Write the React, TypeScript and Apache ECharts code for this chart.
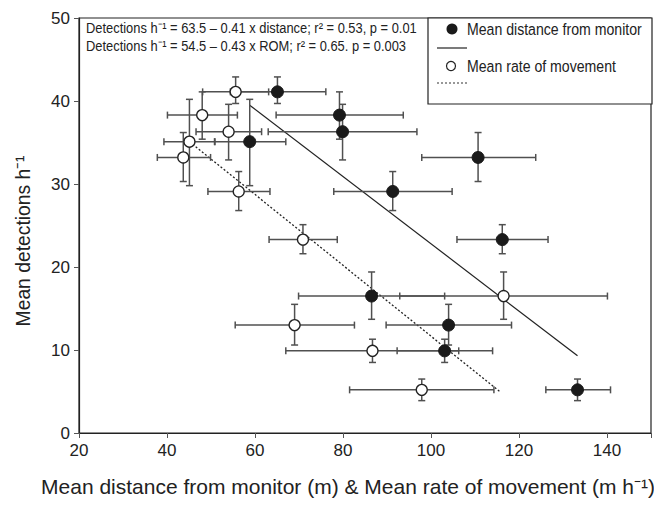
import React, { useEffect, useRef } from "react";
import * as echarts from "echarts";

// Site values (shared y for both series)
const siteY = [41.1, 38.3, 36.3, 35.1, 33.2, 29.1, 23.3, 16.5, 13.0, 9.9, 5.2];
const siteYLo = [39.7, 35.4, 32.9, 29.8, 30.3, 26.8, 21.6, 13.7, 10.6, 8.5, 3.9];
const siteYHi = [42.9, 41.1, 39.6, 40.2, 36.2, 31.5, 25.1, 19.4, 15.5, 11.3, 6.5];

// Mean distance from monitor (filled)
const distX = [65.1, 79.2, 79.9, 58.8, 110.7, 91.3, 116.2, 86.5, 104.0, 103.1, 133.3];
const distXLo = [54.4, 64.8, 63.0, 50.9, 97.9, 77.9, 105.9, 69.9, 89.8, 92.3, 126.1];
const distXHi = [76.1, 93.7, 96.8, 67.0, 123.8, 104.8, 126.6, 103.1, 118.3, 114.0, 140.8];

// Mean rate of movement (open)
const romX = [55.6, 48.0, 54.0, 45.1, 43.7, 56.3, 70.9, 116.5, 69.0, 86.7, 97.9];
const romXLo = [48.1, 40.1, 46.6, 39.3, 37.8, 49.3, 63.2, 92.9, 55.5, 67.0, 81.5];
const romXHi = [63.1, 56.0, 61.5, 50.8, 49.9, 63.4, 78.7, 140.1, 82.6, 106.3, 114.3];

// Regression line endpoints
const distLine = [[58.8, 39.5], [133.3, 9.3]];
const romLine = [[45.1, 35.1], [115.6, 5.0]];

const xTicks = { min: 20, max: 150, interval: 20 };
const yTicks = { min: 0, max: 50, interval: 10 };

const eq1 = "Detections h\u207B\u00B9 = 63.5 \u2013 0.41 x distance; r\u00B2 = 0.53, p = 0.01";
const eq2 = "Detections h\u207B\u00B9 = 54.5 \u2013 0.43 x ROM; r\u00B2 = 0.65. p = 0.003";
const legendNames = ["Mean distance from monitor", "Mean rate of movement"];
const xName = "Mean distance from monitor (m) & Mean rate of movement (m h\u207B\u00B9)";
const yName = "Mean detections h\u207B\u00B9";

const FONT = '"Liberation Sans", Arial, sans-serif';

function errorSeries(xs: number[], xlo: number[], xhi: number[]) {
  const data = xs.map((x, i) => [x, siteY[i], xlo[i], xhi[i], siteYLo[i], siteYHi[i]]);
  return {
    type: "custom",
    data,
    encode: { x: 0, y: 1 },
    z: 2,
    renderItem: (params: any, api: any) => {
      const x = api.value(0), y = api.value(1);
      const pL = api.coord([api.value(2), y]);
      const pR = api.coord([api.value(3), y]);
      const pB = api.coord([x, api.value(4)]);
      const pT = api.coord([x, api.value(5)]);
      const c = 3.5;
      const style = { stroke: "#505050", lineWidth: 1.5 };
      return {
        type: "group",
        children: [
          { type: "line", shape: { x1: pL[0], y1: pL[1], x2: pR[0], y2: pR[1] }, style },
          { type: "line", shape: { x1: pL[0], y1: pL[1] - c, x2: pL[0], y2: pL[1] + c }, style },
          { type: "line", shape: { x1: pR[0], y1: pR[1] - c, x2: pR[0], y2: pR[1] + c }, style },
          { type: "line", shape: { x1: pB[0], y1: pB[1], x2: pT[0], y2: pT[1] }, style },
          { type: "line", shape: { x1: pB[0] - c, y1: pB[1], x2: pB[0] + c, y2: pB[1] }, style },
          { type: "line", shape: { x1: pT[0] - c, y1: pT[1], x2: pT[0] + c, y2: pT[1] }, style },
        ],
      };
    },
  };
}

export default function App() {
  const ref = useRef<HTMLDivElement>(null);
  useEffect(() => {
    if (!ref.current) return;
    const chart = echarts.init(ref.current, undefined, { renderer: "svg" });
    const option: any = {
      animation: false,
      backgroundColor: "#fff",
      textStyle: { fontFamily: FONT },
      grid: { left: 79, right: 2, top: 18, bottom: 72, show: true, borderColor: "#222", borderWidth: 1.2, backgroundColor: "transparent" },
      xAxis: {
        type: "value",
        ...xTicks,
        splitLine: { show: false },
        axisLine: { onZero: false, lineStyle: { color: "#222", width: 1.2 } },
        axisTick: { inside: false, length: 5, lineStyle: { color: "#555" } },
        axisLabel: { color: "#222", fontSize: 17, margin: 9, fontFamily: FONT, formatter: (v: number) => (v === 150 ? "" : String(v)) },
      },
      yAxis: {
        type: "value",
        ...yTicks,
        splitLine: { show: false },
        axisLine: { onZero: false, lineStyle: { color: "#222", width: 1.2 } },
        axisTick: { inside: false, length: 5, lineStyle: { color: "#555" } },
        axisLabel: { color: "#222", fontSize: 17, margin: 9, fontFamily: FONT },
      },
      series: [
        {
          type: "line",
          data: distLine,
          symbol: "none",
          lineStyle: { color: "#222", width: 1.2 },
          z: 1,
        },
        {
          type: "line",
          data: romLine,
          symbol: "none",
          lineStyle: { color: "#222", width: 1.3, type: [2, 2] },
          z: 1,
        },
        errorSeries(distX, distXLo, distXHi),
        errorSeries(romX, romXLo, romXHi),
        {
          type: "scatter",
          name: legendNames[0],
          data: distX.map((x, i) => [x, siteY[i]]),
          symbol: "circle",
          symbolSize: 12,
          itemStyle: { color: "#1a1a1a", borderColor: "#1a1a1a", borderWidth: 1, opacity: 1 },
          z: 5,
        },
        {
          type: "scatter",
          name: legendNames[1],
          data: romX.map((x, i) => [x, siteY[i]]),
          symbol: "circle",
          symbolSize: 11,
          itemStyle: { color: "#fff", borderColor: "#222", borderWidth: 1.3, opacity: 1 },
          z: 5,
        },
      ],
      graphic: [
        { type: "text", x: 348, y: 486, style: { text: xName, fontSize: 21, fontFamily: FONT, fill: "#222", textAlign: "center", verticalAlign: "middle" }, z: 10 },
        { type: "text", x: 23, y: 241, rotation: Math.PI / 2, scaleX: 0.92, style: { text: yName, fontSize: 21, fontFamily: FONT, fill: "#222", textAlign: "center", verticalAlign: "middle" }, z: 10 },
        { type: "text", x: 86, y: 28, scaleX: 0.86, style: { text: eq1, fontSize: 15, fontFamily: FONT, fill: "#222", verticalAlign: "middle" }, z: 10 },
        { type: "text", x: 86, y: 46, scaleX: 0.86, style: { text: eq2, fontSize: 15, fontFamily: FONT, fill: "#222", verticalAlign: "middle" }, z: 10 },
        { type: "rect", shape: { x: 428, y: 18, width: 224, height: 86 }, style: { fill: "#fff", stroke: "#222", lineWidth: 1.2 }, z: 10 },
        { type: "circle", shape: { cx: 452, cy: 29, r: 5.5 }, style: { fill: "#1a1a1a" }, z: 11 },
        { type: "text", x: 467, y: 29, scaleX: 0.83, style: { text: legendNames[0], fontSize: 17, fontFamily: FONT, fill: "#222", verticalAlign: "middle" }, z: 11 },
        { type: "line", shape: { x1: 437, y1: 48, x2: 467, y2: 48 }, style: { stroke: "#333", lineWidth: 1.3 }, z: 11 },
        { type: "circle", shape: { cx: 451, cy: 66, r: 4.5 }, style: { fill: "#fff", stroke: "#222", lineWidth: 1.2 }, z: 11 },
        { type: "text", x: 467, y: 66, scaleX: 0.83, style: { text: legendNames[1], fontSize: 17, fontFamily: FONT, fill: "#222", verticalAlign: "middle" }, z: 11 },
        { type: "line", shape: { x1: 437, y1: 83, x2: 467, y2: 83 }, style: { stroke: "#333", lineWidth: 1.2, lineDash: [2, 2] }, z: 11 },
      ],
    };
    chart.setOption(option);
    return () => chart.dispose();
  }, []);
  return <div ref={ref} style={{ width: 654, height: 505, position: "absolute", left: 0, top: 0 }} />;
}
